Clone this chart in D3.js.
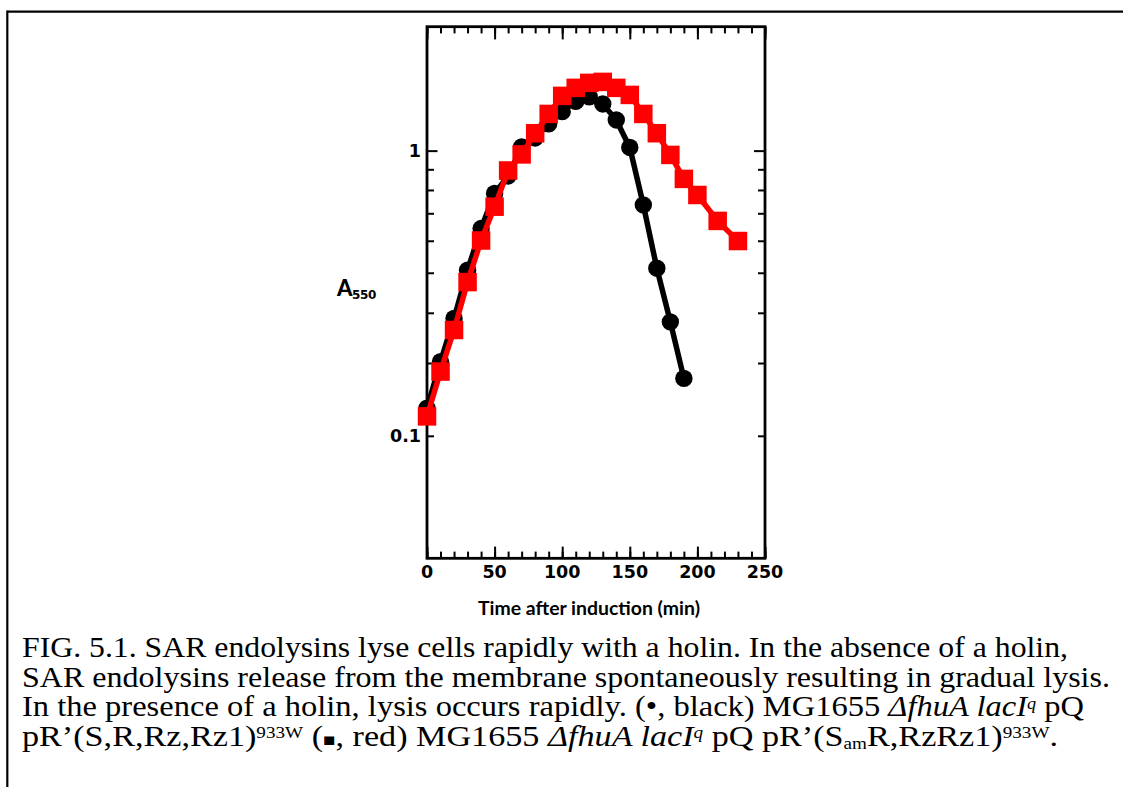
<!DOCTYPE html>
<html>
<head>
<meta charset="utf-8">
<script src="https://cdn.jsdelivr.net/npm/d3@7"></script>
<style>
  html, body { margin: 0; padding: 0; background: #fff; }
  svg { display: block; }
</style>
</head>
<body>
<svg id="chart" width="1123" height="787"></svg>
<script>
// ---- data ----
const timesBlack  = [0, 10, 20, 30, 40, 50, 60, 70, 80, 90, 100, 110, 120, 130, 140, 150, 160, 170, 180, 190];
const valuesBlack = [0.125, 0.182, 0.258, 0.381, 0.533, 0.708, 0.815, 1.03, 1.108, 1.241, 1.37, 1.488, 1.543, 1.458, 1.281, 1.026, 0.645, 0.387, 0.251, 0.159];

const timesRed  = [0, 10, 20, 30, 40, 50, 60, 70, 80, 90, 100, 110, 120, 130, 140, 150, 160, 170, 180, 190, 200, 215, 230];
const valuesRed = [0.117, 0.168, 0.235, 0.346, 0.484, 0.636, 0.852, 0.97, 1.151, 1.345, 1.556, 1.66, 1.728, 1.742, 1.66, 1.568, 1.345, 1.151, 0.966, 0.796, 0.699, 0.567, 0.482];

const xDomain = [0, 250];
const xMajorTicks = [0, 50, 100, 150, 200, 250];
const xMinorTicks = d3.range(0, 251, 10);
const yDomain = [0.0372, 2.72];
const yLabelTicks = [1, 0.1];
const yLabelText = ["1", "0.1"];
const yMajorTicks = [1];
const yMinorTicks = [0.86, 0.728, 0.603, 0.483, 0.373, 0.27, 0.18, 0.1];

const xTitle = "Time after induction (min)";
const yTitleMain = "A";
const yTitleSub = "550";

// ---- layout ----
const svg = d3.select("#chart");
const L = 427, R = 765, T = 26.7, B = 558.3;

const x = d3.scaleLinear().domain(xDomain).range([L, R]);
const y = d3.scaleLog().domain(yDomain).range([B, T]);

// outer frame (top and left rules)
svg.append("line").attr("x1", 7.3).attr("x2", 1123).attr("y1", 11.7).attr("y2", 11.7)
  .attr("stroke", "#000").attr("stroke-width", 2.2);
svg.append("line").attr("x1", 7.3).attr("x2", 7.3).attr("y1", 10.6).attr("y2", 787)
  .attr("stroke", "#000").attr("stroke-width", 2.2);

const tickFont = "'DejaVu Sans', Verdana, sans-serif";

// axes via d3 axis generators (ticks inward)
function axisGroup(gen, tx, ty) {
  const g = svg.append("g").attr("transform", `translate(${tx},${ty})`).call(gen);
  g.select(".domain").remove();
  g.selectAll(".tick line").attr("stroke", "#000").attr("stroke-width", 2);
  return g;
}
// bottom
axisGroup(d3.axisTop(x).tickValues(xMinorTicks).tickSize(6.7).tickFormat(""), 0, B);
axisGroup(d3.axisTop(x).tickValues(xMajorTicks).tickSize(11.7).tickFormat(""), 0, B);
// top
axisGroup(d3.axisBottom(x).tickValues(xMinorTicks).tickSize(6.7).tickFormat(""), 0, T);
axisGroup(d3.axisBottom(x).tickValues(xMajorTicks).tickSize(12.7).tickFormat(""), 0, T);
// left
axisGroup(d3.axisRight(y).tickValues(yMinorTicks).tickSize(7).tickFormat(""), L, 0);
axisGroup(d3.axisRight(y).tickValues(yMajorTicks).tickSize(10.5).tickFormat(""), L, 0);
// right
axisGroup(d3.axisLeft(y).tickValues(yMinorTicks).tickSize(7).tickFormat(""), R, 0);
axisGroup(d3.axisLeft(y).tickValues(yMajorTicks).tickSize(11).tickFormat(""), R, 0);

// box
svg.append("rect").attr("x", L).attr("y", T).attr("width", R - L).attr("height", B - T)
  .attr("fill", "none").attr("stroke", "#000").attr("stroke-width", 2.8);

// x tick labels
svg.append("g").selectAll("text").data(xMajorTicks).join("text")
  .attr("x", d => x(d)).attr("y", 578)
  .attr("text-anchor", "middle")
  .attr("font-family", tickFont).attr("font-weight", "bold").attr("font-size", 17.5)
  .text(d => d);

// y tick labels
svg.append("g").selectAll("text").data(yLabelTicks).join("text")
  .attr("x", 421).attr("y", d => y(d) + 6.5)
  .attr("text-anchor", "end")
  .attr("font-family", tickFont).attr("font-weight", "bold").attr("font-size", 17.5)
  .text((d, i) => yLabelText[i]);

// axis titles
svg.append("text").attr("x", 589).attr("y", 615)
  .attr("text-anchor", "middle")
  .attr("font-family", "Lato, 'Open Sans', sans-serif").attr("font-weight", "bold").attr("font-size", 18)
  .attr("textLength", 222).attr("lengthAdjust", "spacingAndGlyphs")
  .text(xTitle);
svg.append("text").attr("x", 337).attr("y", 295.5)
  .attr("font-family", "Lato, 'Open Sans', sans-serif").attr("font-weight", "900").attr("font-size", 22)
  .text(yTitleMain);
svg.append("text").attr("x", 352).attr("y", 299)
  .attr("font-family", tickFont).attr("font-weight", "bold").attr("font-size", 12)
  .attr("letter-spacing", -0.4)
  .text(yTitleSub);

// series
const lineGen = d3.line().x(d => x(d[0])).y(d => y(d[1]));
const black = timesBlack.map((t, i) => [t, valuesBlack[i]]);
const red = timesRed.map((t, i) => [t, valuesRed[i]]);

svg.append("path").datum(black).attr("d", lineGen)
  .attr("fill", "none").attr("stroke", "#000").attr("stroke-width", 5.5).attr("stroke-linejoin", "round");
svg.append("g").selectAll("circle").data(black).join("circle")
  .attr("cx", d => x(d[0])).attr("cy", d => y(d[1])).attr("r", 8.7).attr("fill", "#000");

svg.append("path").datum(red).attr("d", lineGen)
  .attr("fill", "none").attr("stroke", "#ff0000").attr("stroke-width", 5.5).attr("stroke-linejoin", "round");
const sq = 18.5;
svg.append("g").selectAll("rect").data(red).join("rect")
  .attr("x", d => x(d[0]) - sq / 2).attr("y", d => y(d[1]) - sq / 2)
  .attr("width", sq).attr("height", sq).attr("fill", "#ff0000");

// caption
const capFont = "'Liberation Serif', 'Times New Roman', Times, serif";
const capX = 22, capSize = 29;
const capBase = [657, 686.7, 716.4, 746];
const capWidths = [1046, 1088, 1062, 1036];
const caption = svg.append("g").attr("font-family", capFont).attr("font-size", capSize).attr("fill", "#000");

function capLine(i, parts) {
  const t = caption.append("text").attr("x", capX).attr("y", capBase[i])
    .attr("textLength", capWidths[i]).attr("lengthAdjust", "spacingAndGlyphs");
  parts.forEach(p => {
    const s = t.append("tspan").text(p.t);
    if (p.i) s.attr("font-style", "italic");
    if (p.sup) s.attr("font-size", capSize * 0.56).attr("dy", -capSize * 0.26);
    if (p.supEnd) s.attr("dy", capSize * 0.26);
    if (p.sub) s.attr("font-size", capSize * 0.56).attr("dy", capSize * 0.1);
    if (p.subEnd) s.attr("dy", -capSize * 0.1);
    if (p.sm) s.attr("font-size", capSize * 0.6);
  });
}
capLine(0, [{t: "FIG. 5.1. SAR endolysins lyse cells rapidly with a holin. In the absence of a holin,"}]);
capLine(1, [{t: "SAR endolysins release from the membrane spontaneously resulting in gradual lysis."}]);
capLine(2, [
  {t: "In the presence of a holin, lysis occurs rapidly. (\u2022, black) MG1655 "},
  {t: "\u0394fhuA lacI", i: true}, {t: "q", i: true, sup: true}, {t: " pQ", supEnd: true}
]);
capLine(3, [
  {t: "pR\u2019(S,R,Rz,Rz1)"}, {t: "933W", sup: true}, {t: " (", supEnd: true}, {t: "\u25A0", sm: true},
  {t: ", red) MG1655 "}, {t: "\u0394fhuA lacI", i: true}, {t: "q", i: true, sup: true},
  {t: " pQ pR\u2019(S", supEnd: true}, {t: "am", sub: true}, {t: "R,RzRz1)", subEnd: true},
  {t: "933W", sup: true}, {t: ".", supEnd: true}
]);
</script>
</body>
</html>
